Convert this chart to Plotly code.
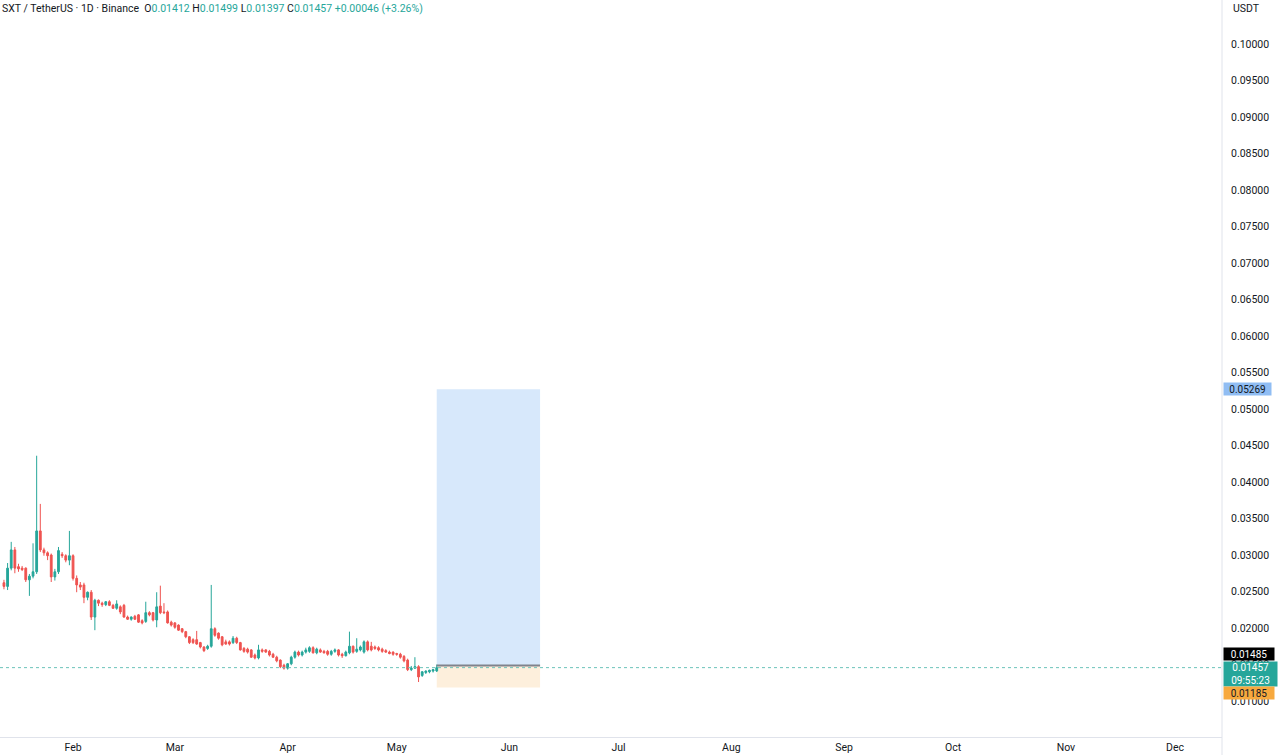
import pandas as pd
import plotly.graph_objects as go

# daily SXT/USDT candles, Jan 13 .. May 12
first_day = "2026-01-13"
opens = [
    0.0262, 0.0257, 0.0282, 0.0307, 0.0284, 0.0282, 0.0282, 0.0266, 0.0271, 0.0277,
    0.0333, 0.0307, 0.0303, 0.0300, 0.0270, 0.0277, 0.0301, 0.0299, 0.0293, 0.0299,
    0.0268, 0.0259, 0.0259, 0.0242, 0.0249, 0.0215, 0.0238, 0.0234, 0.0232, 0.0236,
    0.0231, 0.0227, 0.0229, 0.0231, 0.0215, 0.0212, 0.0216, 0.0218, 0.0210, 0.0209,
    0.0221, 0.0221, 0.0211, 0.0230, 0.0222, 0.0222, 0.0208, 0.0207, 0.0204, 0.0199,
    0.0195, 0.0188, 0.0184, 0.0184, 0.0180, 0.0174, 0.0172, 0.0175, 0.0199, 0.0193,
    0.0188, 0.0181, 0.0181, 0.0180, 0.0186, 0.0180, 0.0172, 0.0171, 0.0170, 0.0163,
    0.0159, 0.0170, 0.0170, 0.0168, 0.0164, 0.0160, 0.0156, 0.0149, 0.0145, 0.0151,
    0.0160, 0.0167, 0.0163, 0.0167, 0.0168, 0.0173, 0.0166, 0.0170, 0.0168, 0.0168,
    0.0164, 0.0168, 0.0170, 0.0164, 0.0162, 0.0166, 0.0175, 0.0168, 0.0170, 0.0167,
    0.0181, 0.0175, 0.0174, 0.0173, 0.0171, 0.0169, 0.0167, 0.0167, 0.0165, 0.0164,
    0.0161, 0.0156, 0.0143, 0.0145, 0.0147, 0.0135, 0.0139, 0.0140, 0.0141, 0.01412,
]
highs = [
    0.0266, 0.0289, 0.0318, 0.0311, 0.0288, 0.0285, 0.0283, 0.0274, 0.0316, 0.0436,
    0.0370, 0.0310, 0.0305, 0.0302, 0.0281, 0.0311, 0.0304, 0.0301, 0.0333, 0.0301,
    0.0272, 0.0263, 0.0262, 0.0250, 0.0252, 0.0240, 0.0239, 0.0236, 0.0237, 0.0238,
    0.0233, 0.0238, 0.0231, 0.0233, 0.0217, 0.0216, 0.0218, 0.0219, 0.0212, 0.0236,
    0.0223, 0.0222, 0.0249, 0.0258, 0.0234, 0.0224, 0.0210, 0.0208, 0.0205, 0.0200,
    0.0196, 0.0189, 0.0186, 0.0196, 0.0181, 0.0175, 0.0177, 0.0259, 0.0201, 0.0194,
    0.0189, 0.0184, 0.0183, 0.0189, 0.0188, 0.0181, 0.0174, 0.0173, 0.0171, 0.0165,
    0.0177, 0.0172, 0.0171, 0.0170, 0.0166, 0.0162, 0.0157, 0.0151, 0.0152, 0.0162,
    0.0169, 0.0169, 0.0169, 0.0173, 0.0175, 0.0175, 0.0173, 0.0172, 0.0170, 0.0170,
    0.0170, 0.0172, 0.0171, 0.0166, 0.0169, 0.0195, 0.0176, 0.0186, 0.0176, 0.0183,
    0.0183, 0.0181, 0.0176, 0.0175, 0.0173, 0.0171, 0.0169, 0.0168, 0.0166, 0.0166,
    0.0163, 0.0158, 0.0148, 0.0160, 0.0149, 0.0141, 0.0142, 0.0143, 0.0144, 0.01499,
]
lows = [
    0.0253, 0.0252, 0.0279, 0.0275, 0.0277, 0.0278, 0.0263, 0.0244, 0.0268, 0.0274,
    0.0304, 0.0299, 0.0293, 0.0263, 0.0265, 0.0274, 0.0296, 0.0290, 0.0286, 0.0265,
    0.0249, 0.0252, 0.0234, 0.0238, 0.0211, 0.0197, 0.0230, 0.0229, 0.0230, 0.0230,
    0.0226, 0.0225, 0.0219, 0.0214, 0.0211, 0.0210, 0.0211, 0.0207, 0.0205, 0.0207,
    0.0216, 0.0209, 0.0201, 0.0219, 0.0219, 0.0206, 0.0202, 0.0199, 0.0196, 0.0193,
    0.0186, 0.0178, 0.0178, 0.0177, 0.0172, 0.0167, 0.0170, 0.0173, 0.0188, 0.0184,
    0.0175, 0.0177, 0.0176, 0.0178, 0.0178, 0.0169, 0.0166, 0.0165, 0.0159, 0.0157,
    0.0157, 0.0166, 0.0166, 0.0161, 0.0159, 0.0153, 0.0145, 0.0143, 0.0143, 0.0149,
    0.0158, 0.0161, 0.0161, 0.0165, 0.0166, 0.0165, 0.0164, 0.0166, 0.0165, 0.0162,
    0.0162, 0.0166, 0.0161, 0.0159, 0.0161, 0.0164, 0.0165, 0.0166, 0.0168, 0.0165,
    0.0168, 0.0168, 0.0170, 0.0168, 0.0166, 0.0166, 0.0164, 0.0162, 0.0162, 0.0158,
    0.0153, 0.0141, 0.0141, 0.0144, 0.0126, 0.0133, 0.0137, 0.0138, 0.0139, 0.01397,
]
closes = [
    0.0257, 0.0282, 0.0307, 0.0282, 0.0281, 0.0280, 0.0266, 0.0271, 0.0277, 0.0333,
    0.0307, 0.0303, 0.0299, 0.0270, 0.0277, 0.0306, 0.0299, 0.0293, 0.0299, 0.0268,
    0.0259, 0.0256, 0.0242, 0.0249, 0.0215, 0.0238, 0.0234, 0.0232, 0.0236, 0.0231,
    0.0227, 0.0233, 0.0222, 0.0215, 0.0212, 0.0215, 0.0212, 0.0208, 0.0207, 0.0221,
    0.0218, 0.0211, 0.0229, 0.0221, 0.0221, 0.0207, 0.0204, 0.0201, 0.0197, 0.0195,
    0.0188, 0.0180, 0.0180, 0.0178, 0.0174, 0.0169, 0.0175, 0.0199, 0.0190, 0.0186,
    0.0177, 0.0178, 0.0178, 0.0186, 0.0180, 0.0170, 0.0168, 0.0167, 0.0160, 0.0159,
    0.0170, 0.0168, 0.0167, 0.0163, 0.0160, 0.0155, 0.0147, 0.0145, 0.0151, 0.0160,
    0.0167, 0.0163, 0.0167, 0.0170, 0.0173, 0.0166, 0.0171, 0.0167, 0.0166, 0.0164,
    0.0168, 0.0170, 0.0163, 0.0162, 0.0167, 0.0175, 0.0167, 0.0171, 0.0174, 0.0181,
    0.0170, 0.0170, 0.0172, 0.0170, 0.0168, 0.0167, 0.0165, 0.0164, 0.0164, 0.0160,
    0.0155, 0.0143, 0.0145, 0.0147, 0.0133, 0.0140, 0.0141, 0.0142, 0.0143, 0.01457,
]

# long position tool
entry_price = 0.01485
target_price = 0.05269
stop_price = 0.01185
last_price = 0.01457
countdown = "09:55:23"
position_start = "2026-05-12"
position_end = "2026-06-09 10:00"

y_ticks = [0.01 + 0.005 * k for k in range(19)]

GREEN = "#26a69a"
RED = "#ef5350"
INK = "#131722"
FONT = "Roboto, sans-serif"

dates = pd.date_range(first_day, periods=len(closes), freq="D")

fig = go.Figure()
fig.add_trace(go.Candlestick(
    x=dates, open=opens, high=highs, low=lows, close=closes,
    increasing=dict(line=dict(color=GREEN, width=1), fillcolor=GREEN),
    decreasing=dict(line=dict(color=RED, width=1), fillcolor=RED),
    whiskerwidth=0,
    showlegend=False,
    hoverinfo="skip",
))

# profit / loss zones and entry line
fig.add_shape(type="rect", xref="x", yref="y", x0=position_start, x1=position_end,
              y0=entry_price, y1=target_price, fillcolor="#d7e8fb", line_width=0, layer="below")
fig.add_shape(type="rect", xref="x", yref="y", x0=position_start, x1=position_end,
              y0=stop_price, y1=entry_price, fillcolor="#fdefdc", line_width=0, layer="below")
fig.add_shape(type="line", xref="x", yref="y", x0=position_start, x1=position_end,
              y0=entry_price, y1=entry_price, line=dict(color="#80838c", width=2))
fig.add_shape(type="line", xref="paper", yref="y", x0=0, x1=1,
              y0=last_price, y1=last_price, line=dict(color="#6cc3ba", width=1, dash="dot"))
# price scale separator running down to the bottom edge
fig.add_shape(type="line", xref="paper", yref="paper", x0=1, x1=1, y0=-0.025, y1=1,
              line=dict(color="#e0e3eb", width=1))

header = (
    f"<span style='color:{INK}'>SXT / TetherUS · 1D · Binance</span>  "
    f"<span style='color:{INK}'>O</span><span style='color:{GREEN}'>0.01412</span> "
    f"<span style='color:{INK}'>H</span><span style='color:{GREEN}'>0.01499</span> "
    f"<span style='color:{INK}'>L</span><span style='color:{GREEN}'>0.01397</span> "
    f"<span style='color:{INK}'>C</span><span style='color:{GREEN}'>0.01457</span> "
    f"<span style='color:{GREEN}'>+0.00046 (+3.26%)</span>"
)
fig.add_annotation(xref="paper", yref="paper", x=0.0, y=0.988, xanchor="left", yanchor="middle",
                   text=header, showarrow=False, font=dict(family=FONT, size=10.5, color=INK))
fig.add_annotation(xref="paper", yref="paper", x=1.007, y=0.988, xanchor="left", yanchor="middle",
                   text="USDT", showarrow=False, font=dict(family=FONT, size=10.5, color=INK))

# price scale labels
label_font = dict(family=FONT, size=10)
fig.add_annotation(xref="paper", yref="y", x=1.001, y=target_price, xanchor="left", yanchor="middle",
                   text=f"{target_price:.5f}", showarrow=False, bgcolor="#90bdf3",
                   width=45, height=10, borderpad=1, font=dict(label_font, color=INK))
fig.add_annotation(xref="paper", yref="paper", x=1.001, y=0.1125, xanchor="left", yanchor="middle",
                   text=f"{entry_price:.5f}", showarrow=False, bgcolor="#000000",
                   width=48, height=10, borderpad=1, font=dict(label_font, color="#ffffff"))
fig.add_annotation(xref="paper", yref="paper", x=1.001, y=0.0855, xanchor="left", yanchor="middle",
                   text=f"{last_price:.5f}<br>{countdown}", showarrow=False, bgcolor=GREEN,
                   width=51, height=22, borderpad=1, font=dict(label_font, color="#ffffff"))
fig.add_annotation(xref="paper", yref="paper", x=1.001, y=0.0595, xanchor="left", yanchor="middle",
                   text=f"{stop_price:.5f}", showarrow=False, bgcolor="#f7a93e",
                   width=48, height=10, borderpad=1, font=dict(label_font, color=INK))

fig.update_xaxes(
    type="date",
    range=["2026-01-11 22:00", "2026-12-13 22:00"],
    dtick="M1", tickformat="%b", ticks="",
    showgrid=False, zeroline=False,
    showline=True, linecolor="#e0e3eb", linewidth=1,
    rangeslider=dict(visible=False),
    tickfont=dict(family=FONT, size=10.5, color=INK),
)
fig.update_yaxes(
    side="right",
    range=[0.005068, 0.106027],
    tickvals=y_ticks, tickformat=".5f", ticks="",
    ticklabelstandoff=8,
    showgrid=False, zeroline=False,
    showline=False,
    tickfont=dict(family=FONT, size=10.5, color=INK),
)
fig.update_layout(
    width=1280, height=755,
    margin=dict(l=0, r=58, t=0, b=18),
    paper_bgcolor="#ffffff", plot_bgcolor="#ffffff",
    font=dict(family=FONT),
    hovermode=False,
)

fig.write_html("out.html", config={"displayModeBar": False},
               post_script="document.body.style.margin='0';")
